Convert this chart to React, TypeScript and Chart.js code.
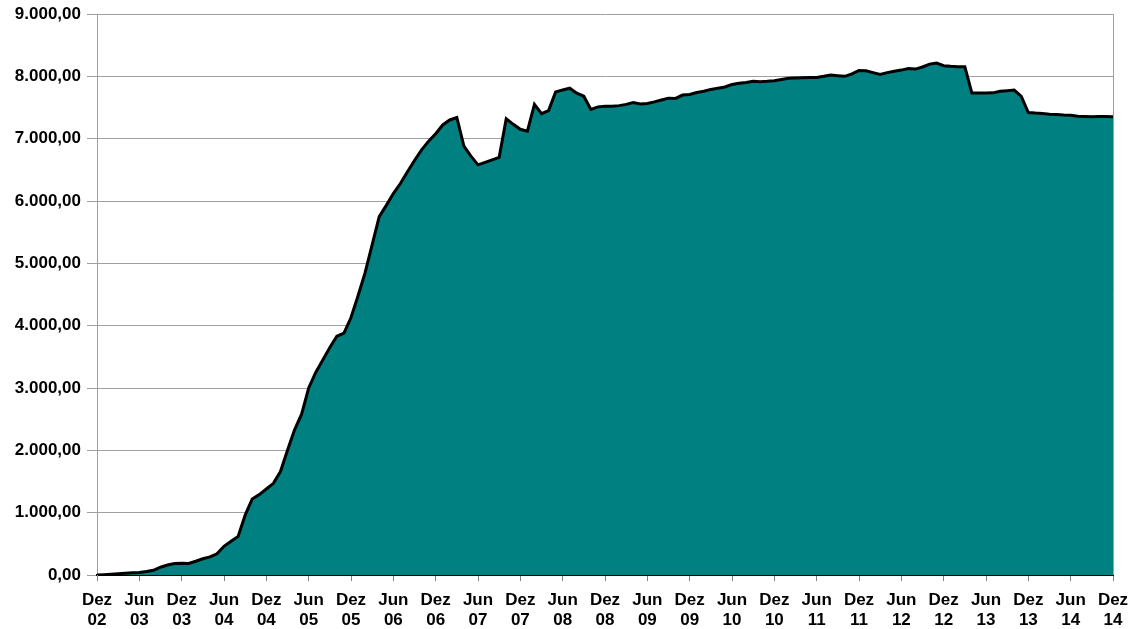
import React, { useEffect, useRef } from "react";
import { Chart, registerables } from "chart.js";

Chart.register(...registerables);

// Monthly values, Dez 02 .. Dez 14 (145 months)
const seriesValues: number[] = [
  0, 5, 12, 20, 30, 35, 40, 55, 75, 125, 160, 185,
  190, 185, 220, 260, 290, 340, 460, 540, 620, 960, 1220, 1290,
  1380, 1470, 1660, 2000, 2330, 2580, 3000, 3250, 3450, 3650, 3830, 3880,
  4130, 4480, 4850, 5300, 5750, 5930, 6120, 6280, 6470, 6650, 6820, 6960,
  7080, 7220, 7300, 7340, 6880, 6720, 6580, 6620, 6660, 6700, 7320, 7230,
  7150, 7120, 7550, 7400, 7450, 7750, 7780, 7810, 7730, 7680, 7470, 7510,
  7520, 7520, 7530, 7550, 7580, 7555, 7565, 7590, 7620, 7650, 7645, 7700,
  7710, 7740, 7760, 7790, 7810, 7830, 7870, 7890, 7900, 7920, 7913, 7920,
  7930, 7950, 7970, 7975, 7978, 7980, 7983, 8000, 8020, 8009, 8000, 8040,
  8095, 8089, 8060, 8030, 8060, 8080, 8100, 8127, 8116, 8150, 8196, 8212,
  8170, 8160, 8155, 8153, 7731, 7731, 7731, 7735, 7760, 7770, 7779, 7677,
  7420, 7410, 7405, 7390, 7388, 7380, 7377, 7360, 7356, 7350, 7355, 7356,
  7350,
];

// Labels of the ticks, one every six months
const tickLabels: string[][] = [
  ["Dez", "02"], ["Jun", "03"], ["Dez", "03"], ["Jun", "04"], ["Dez", "04"],
  ["Jun", "05"], ["Dez", "05"], ["Jun", "06"], ["Dez", "06"], ["Jun", "07"],
  ["Dez", "07"], ["Jun", "08"], ["Dez", "08"], ["Jun", "09"], ["Dez", "09"],
  ["Jun", "10"], ["Dez", "10"], ["Jun", "11"], ["Dez", "11"], ["Jun", "12"],
  ["Dez", "12"], ["Jun", "13"], ["Dez", "13"], ["Jun", "14"], ["Dez", "14"],
];
const monthsPerTick = 6;

const yMin = 0;
const yMax = 9000;
const yStep = 1000;

function formatDe(v: number): string {
  const int = Math.round(v).toString().replace(/\B(?=(\d{3})+(?!\d))/g, ".");
  return int + ",00";
}

const rightBorder = {
  id: "rightBorder",
  afterDatasetsDraw(chart: any) {
    const { ctx, chartArea } = chart;
    ctx.save();
    ctx.strokeStyle = "#a0a0a0";
    ctx.lineWidth = 1;
    ctx.beginPath();
    ctx.moveTo(chartArea.right + 0.5, chartArea.top);
    ctx.lineTo(chartArea.right + 0.5, chartArea.bottom);
    ctx.stroke();
    ctx.restore();
  },
};

export default function App() {
  const canvasRef = useRef<HTMLCanvasElement | null>(null);

  useEffect(() => {
    if (!canvasRef.current) return;
    const yFont = { family: "'Liberation Sans', Arial, sans-serif", size: 17, weight: "bold" as const };
    const xFont = { family: "'Liberation Sans', Arial, sans-serif", size: 17, weight: "bold" as const, lineHeight: 1.2 };
    const chart = new Chart(canvasRef.current, {
      type: "line",
      data: {
        datasets: [
          {
            data: seriesValues.map((v, i) => ({ x: i, y: v })),
            backgroundColor: "#008080",
            borderColor: "#000000",
            borderWidth: 3,
            fill: "origin",
            pointRadius: 0,
            tension: 0,
          },
        ],
      },
      options: {
        animation: false,
        responsive: false,
        maintainAspectRatio: false,
        layout: { padding: { left: 0, right: 26, top: 14, bottom: 0 } },
        plugins: { legend: { display: false }, tooltip: { enabled: false } },
        scales: {
          x: {
            type: "linear",
            min: 0,
            max: (tickLabels.length - 1) * monthsPerTick,
            afterFit: (s: any) => { s.height = 54; s.paddingLeft = 0; s.paddingRight = 0; },
            ticks: {
              stepSize: monthsPerTick,
              autoSkip: false,
              maxRotation: 0,
              padding: 9,
              color: "#000",
              font: xFont,
              callback: (v: any) => {
                const k = Math.round(Number(v) / monthsPerTick);
                return tickLabels[k] ?? "";
              },
            },
            grid: {
              drawOnChartArea: false,
              drawTicks: true,
              tickLength: 6,
              color: "#808080",
            },
            border: { color: "#000000", width: 2 },
          },
          y: {
            min: yMin,
            max: yMax,
            afterFit: (s: any) => { s.width = 97; s.paddingTop = 0; s.paddingBottom = 0; },
            ticks: {
              stepSize: yStep,
              padding: 6,
              color: "#000",
              font: yFont,
              callback: (v: any) => formatDe(Number(v)),
            },
            grid: {
              color: "#a0a0a0",
              lineWidth: 1,
              tickLength: 10,
            },
            border: { color: "#a0a0a0", width: 1 },
          },
        },
      },
      plugins: [rightBorder],
    });
    return () => chart.destroy();
  }, []);

  return (
    <div style={{ position: "fixed", left: 0, top: 0, width: 1139, height: 629, background: "#fff" }}>
      <canvas ref={canvasRef} width={1139} height={629} style={{ width: 1139, height: 629 }} />
    </div>
  );
}
